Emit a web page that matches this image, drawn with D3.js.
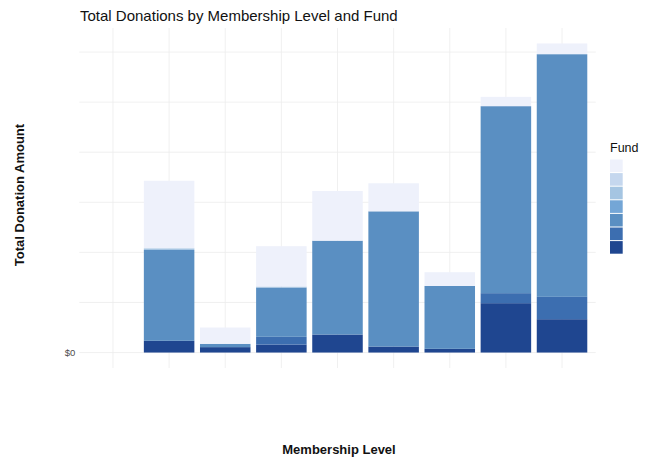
<!DOCTYPE html>
<html><head><meta charset="utf-8">
<script src="https://cdn.jsdelivr.net/npm/d3@7"></script>
<style>body{margin:0;background:#fff}svg{display:block}</style>
</head><body>
<svg id="c" width="660" height="465"></svg>
<script>
// Data
const categories = ["NA", "Level 1", "Level 2", "Level 3", "Level 4", "Level 5", "Level 6", "Level 7", "Level 8"];
const funds = ["Fund 1", "Fund 2", "Fund 3", "Fund 4", "Fund 5", "Fund 6", "Fund 7"];
const fund1 = [0, 67400, 16300, 40300, 49600, 28000, 13700, 9300, 10700];
const fund2 = [0, 0, 0, 0, 0, 0, 0, 0, 0];
const fund3 = [0, 1700, 0, 1000, 0, 0, 0, 0, 0];
const fund4 = [0, 0, 0, 0, 0, 0, 0, 0, 0];
const fund5 = [0, 90700, 3300, 49200, 93700, 135000, 62800, 186700, 242300];
const fund6 = [0, 0, 0, 7700, 0, 0, 0, 10000, 22300];
const fund7 = [0, 11700, 5400, 8000, 18000, 6000, 3700, 49300, 33300];
const fundColors = ["#eef1fb", "#c5d7ee", "#a5c5e2", "#74a6d6", "#5a8fc2", "#3c6eb0", "#1f4690"];
const yTicks = [0, 50000, 100000, 150000, 200000, 250000, 300000];
const yTickLabels = ["$0", "", "", "", "", "", ""];

const series = [fund1, fund2, fund3, fund4, fund5, fund6, fund7];
const rows = categories.map((c, i) => {
  const r = {cat: c};
  funds.forEach((f, j) => r[f] = series[j][i]);
  return r;
});

const svg = d3.select("#c");
const L = 79.3, R = 595.7, T = 28, B = 368;
const FF = "Liberation Sans, Arial, sans-serif";

const stackKeys = funds.slice().reverse(); // darkest at bottom
const stacked = d3.stack().keys(stackKeys)(rows);
const maxV = d3.max(rows, r => d3.sum(funds, f => r[f]));

const x = d3.scalePoint().domain(categories).range([L, R]).padding(0.6);
const bw = x.step() * 0.9;
const y = d3.scaleLinear().domain([-0.05 * maxV, 1.05 * maxV]).range([B, T]);
const color = d3.scaleOrdinal().domain(funds).range(fundColors);

// grid
const g = svg.append("g");
g.selectAll("line.h").data(yTicks).join("line")
  .attr("x1", L).attr("x2", R).attr("y1", d => y(d)).attr("y2", d => y(d))
  .attr("stroke", "#ececec").attr("stroke-width", 0.8);
g.selectAll("line.v").data(categories).join("line")
  .attr("x1", d => x(d)).attr("x2", d => x(d)).attr("y1", T).attr("y2", B)
  .attr("stroke", "#ececec").attr("stroke-width", 0.8);

// bars
svg.append("g").selectAll("g").data(stacked).join("g")
  .attr("fill", d => color(d.key))
  .selectAll("rect").data(d => d).join("rect")
  .attr("x", d => x(d.data.cat) - bw / 2)
  .attr("width", bw)
  .attr("y", d => y(d[1]))
  .attr("height", d => Math.max(0, y(d[0]) - y(d[1])));

// y axis labels
const yAxis = d3.axisLeft(y).tickValues(yTicks).tickFormat((d, i) => yTickLabels[i]).tickSize(0).tickPadding(4);
const ya = svg.append("g").attr("transform", `translate(${L},0)`).call(yAxis);
ya.select(".domain").remove();
ya.selectAll("text").attr("font-family", FF).attr("font-size", 9.5).attr("fill", "#4d4d4d");

// title
svg.append("text").attr("x", 80).attr("y", 20.5)
  .attr("font-family", FF).attr("font-size", 15).attr("fill", "#111")
  .text("Total Donations by Membership Level and Fund");

// axis titles
svg.append("text").attr("transform", "translate(24,195) rotate(-90)").attr("text-anchor", "middle")
  .attr("font-family", FF).attr("font-size", 13).attr("font-weight", "bold").attr("fill", "#111")
  .text("Total Donation Amount");
svg.append("text").attr("x", 339).attr("y", 454).attr("text-anchor", "middle")
  .attr("font-family", FF).attr("font-size", 13).attr("font-weight", "bold").attr("fill", "#111")
  .text("Membership Level");

// legend
const lg = svg.append("g").attr("transform", "translate(610,0)");
lg.append("text").attr("x", 0).attr("y", 152)
  .attr("font-family", FF).attr("font-size", 12.5).attr("fill", "#111").text("Fund");
lg.selectAll("rect").data(funds).join("rect")
  .attr("x", 0).attr("y", (d, i) => 159.5 + i * 13.6)
  .attr("width", 12.7).attr("height", 12.6)
  .attr("fill", d => color(d));
</script>
</body></html>
